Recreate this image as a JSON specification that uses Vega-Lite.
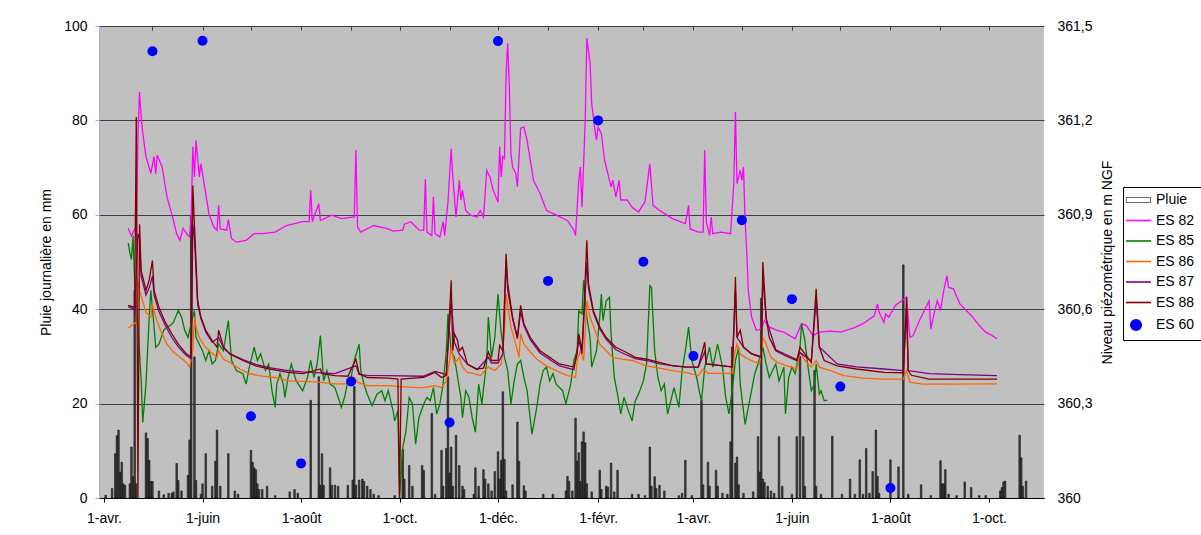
{
"$schema": "https://vega.github.io/schema/vega-lite/v6.json",
"width": 945, "height": 472,
"autosize": {"type": "none"},
"padding": {"left": 99, "top": 26, "right": 157, "bottom": 37},
"background": "#FFFFFF",
"datasets": {
"pluie": [
{"d":"2006-04-02","v":0.6},{"d":"2006-04-06","v":2},{"d":"2006-04-08","v":9.4},{"d":"2006-04-09","v":13.2},{"d":"2006-04-10","v":14.4},{"d":"2006-04-11","v":5.5},{"d":"2006-04-12","v":7.6},{"d":"2006-04-13","v":3},{"d":"2006-04-14","v":2.7},{"d":"2006-04-17","v":3},{"d":"2006-04-18","v":10.8},{"d":"2006-04-19","v":4.5},{"d":"2006-04-20","v":44},{"d":"2006-04-21","v":3},
{"d":"2006-04-27","v":13.8},{"d":"2006-04-28","v":12.6},{"d":"2006-04-29","v":8},{"d":"2006-04-30","v":3.5},{"d":"2006-05-01","v":3.5},{"d":"2006-05-05","v":1.5},{"d":"2006-05-08","v":0.7},{"d":"2006-05-11","v":1},{"d":"2006-05-13","v":1},{"d":"2006-05-14","v":1.3},{"d":"2006-05-16","v":7.3},{"d":"2006-05-17","v":3.7},{"d":"2006-05-19","v":1.5},{"d":"2006-05-23","v":4.8},{"d":"2006-05-24","v":12.3},{"d":"2006-05-25","v":59.7},{"d":"2006-05-27","v":29.9},{"d":"2006-05-28","v":3.7},{"d":"2006-05-31","v":0.8},
{"d":"2006-06-01","v":3},{"d":"2006-06-03","v":9.4},{"d":"2006-06-07","v":2.5},{"d":"2006-06-09","v":7.8},{"d":"2006-06-10","v":14.4},{"d":"2006-06-12","v":2.5},{"d":"2006-06-17","v":9.4},{"d":"2006-06-21","v":1.5},{"d":"2006-06-23","v":0.8},
{"d":"2006-07-01","v":10.1},{"d":"2006-07-02","v":7.6},{"d":"2006-07-03","v":6.4},{"d":"2006-07-04","v":6},{"d":"2006-07-05","v":3},{"d":"2006-07-06","v":1.8},{"d":"2006-07-08","v":1.8},{"d":"2006-07-11","v":2.5},{"d":"2006-07-16","v":0.5},{"d":"2006-07-25","v":1.3},{"d":"2006-07-28","v":1.8},{"d":"2006-07-30","v":1},
{"d":"2006-08-07","v":20.7},{"d":"2006-08-12","v":25.7},{"d":"2006-08-13","v":2.7},{"d":"2006-08-14","v":9.4},{"d":"2006-08-15","v":2.7},{"d":"2006-08-19","v":6.4},{"d":"2006-08-20","v":2.7},{"d":"2006-08-22","v":2.7},{"d":"2006-08-24","v":2.5},{"d":"2006-08-30","v":2.7},
{"d":"2006-09-02","v":3.8},{"d":"2006-09-03","v":23.6},{"d":"2006-09-04","v":2.7},{"d":"2006-09-06","v":3.8},{"d":"2006-09-08","v":4},{"d":"2006-09-09","v":3.5},{"d":"2006-09-11","v":2.5},{"d":"2006-09-13","v":1.8},{"d":"2006-09-15","v":0.8},{"d":"2006-09-18","v":0.5},{"d":"2006-09-28","v":0.5},
{"d":"2006-10-03","v":10.3},{"d":"2006-10-04","v":4},{"d":"2006-10-07","v":6.9},{"d":"2006-10-09","v":2.5},{"d":"2006-10-15","v":6.9},{"d":"2006-10-16","v":5.8},{"d":"2006-10-21","v":17.9},{"d":"2006-10-23","v":0.8},{"d":"2006-10-27","v":10.1},{"d":"2006-10-28","v":2.5},{"d":"2006-10-30","v":10.5},{"d":"2006-10-31","v":25.7},
{"d":"2006-11-01","v":5.3},{"d":"2006-11-02","v":10.8},{"d":"2006-11-03","v":2.5},{"d":"2006-11-05","v":13.3},{"d":"2006-11-07","v":6.9},{"d":"2006-11-09","v":2.5},{"d":"2006-11-10","v":1.8},{"d":"2006-11-16","v":0.8},{"d":"2006-11-17","v":6.4},{"d":"2006-11-19","v":2.5},{"d":"2006-11-22","v":6},{"d":"2006-11-23","v":4},{"d":"2006-11-25","v":3},{"d":"2006-11-27","v":1.5},{"d":"2006-11-29","v":5.6},
{"d":"2006-12-01","v":9.8},{"d":"2006-12-02","v":4},{"d":"2006-12-03","v":8},{"d":"2006-12-04","v":22.5},{"d":"2006-12-05","v":8.2},{"d":"2006-12-06","v":1.5},{"d":"2006-12-10","v":2.8},{"d":"2006-12-13","v":16.1},{"d":"2006-12-14","v":7.8},{"d":"2006-12-17","v":2.6},{"d":"2006-12-18","v":1.5},{"d":"2006-12-29","v":0.8},
{"d":"2007-01-04","v":0.8},{"d":"2007-01-12","v":1.5},{"d":"2007-01-13","v":4.6},{"d":"2007-01-14","v":3.5},{"d":"2007-01-16","v":1.5},{"d":"2007-01-18","v":16.9},{"d":"2007-01-19","v":7.8},{"d":"2007-01-20","v":9.6},{"d":"2007-01-21","v":3.5},{"d":"2007-01-22","v":11.9},{"d":"2007-01-23","v":14},{"d":"2007-01-24","v":11.7},{"d":"2007-01-25","v":3},{"d":"2007-01-28","v":1.3},
{"d":"2007-02-02","v":5.9},{"d":"2007-02-03","v":1.8},{"d":"2007-02-06","v":2.5},{"d":"2007-02-07","v":2.3},{"d":"2007-02-09","v":7.4},{"d":"2007-02-11","v":1.3},{"d":"2007-02-13","v":5.9},{"d":"2007-02-22","v":0.8},{"d":"2007-02-26","v":0.8},
{"d":"2007-03-02","v":0.5},{"d":"2007-03-05","v":10.8},{"d":"2007-03-06","v":2.5},{"d":"2007-03-08","v":4.5},{"d":"2007-03-09","v":2},{"d":"2007-03-11","v":2.7},{"d":"2007-03-14","v":1.5},{"d":"2007-03-23","v":0.5},{"d":"2007-03-25","v":1},{"d":"2007-03-27","v":8},{"d":"2007-03-31","v":0.5},
{"d":"2007-04-06","v":20.7},{"d":"2007-04-07","v":2.8},{"d":"2007-04-10","v":7.6},{"d":"2007-04-11","v":2.5},{"d":"2007-04-15","v":5.9},{"d":"2007-04-16","v":2.5},{"d":"2007-04-19","v":1},{"d":"2007-04-22","v":0.8},{"d":"2007-04-24","v":11.9},{"d":"2007-04-25","v":32},{"d":"2007-04-27","v":7.4},{"d":"2007-04-28","v":8.7},{"d":"2007-04-29","v":2.8},
{"d":"2007-05-02","v":1},{"d":"2007-05-08","v":1.3},{"d":"2007-05-11","v":13},{"d":"2007-05-12","v":5.5},{"d":"2007-05-13","v":42.3},{"d":"2007-05-14","v":4},{"d":"2007-05-15","v":3.3},{"d":"2007-05-17","v":2.5},{"d":"2007-05-19","v":1.5},{"d":"2007-05-21","v":1},{"d":"2007-05-24","v":13},{"d":"2007-05-26","v":2.5},
{"d":"2007-06-01","v":0.8},{"d":"2007-06-04","v":13},{"d":"2007-06-06","v":30},{"d":"2007-06-08","v":13},{"d":"2007-06-09","v":2.5},{"d":"2007-06-15","v":27},{"d":"2007-06-16","v":2.5},{"d":"2007-06-19","v":0.8},{"d":"2007-06-26","v":13.1},
{"d":"2007-07-02","v":0.8},{"d":"2007-07-07","v":4},{"d":"2007-07-10","v":0.8},{"d":"2007-07-13","v":8.1},{"d":"2007-07-15","v":0.8},{"d":"2007-07-17","v":10.5},{"d":"2007-07-19","v":1},{"d":"2007-07-21","v":5.6},{"d":"2007-07-23","v":14.4},{"d":"2007-07-24","v":4.6},{"d":"2007-07-25","v":1},
{"d":"2007-08-01","v":8.1},{"d":"2007-08-06","v":6.6},{"d":"2007-08-09","v":49.4},{"d":"2007-08-12","v":0.8},{"d":"2007-08-20","v":2.8},{"d":"2007-08-26","v":0.5},
{"d":"2007-09-01","v":7.9},{"d":"2007-09-02","v":3},{"d":"2007-09-03","v":3},{"d":"2007-09-04","v":6},{"d":"2007-09-06","v":0.8},{"d":"2007-09-11","v":0.5},{"d":"2007-09-16","v":3.4},{"d":"2007-09-20","v":2.2},{"d":"2007-09-25","v":0.5},{"d":"2007-09-29","v":0.5},
{"d":"2007-10-08","v":1.5},{"d":"2007-10-09","v":2.2},{"d":"2007-10-10","v":3.4},{"d":"2007-10-11","v":3.6},{"d":"2007-10-20","v":13.3},{"d":"2007-10-21","v":8.5},{"d":"2007-10-22","v":2.5},{"d":"2007-10-24","v":3.6}
],
"niveaux": [
{"s":"ES 82","d":"2006-04-16","v":360.857},{"s":"ES 82","d":"2006-04-18","v":360.833},{"s":"ES 82","d":"2006-04-20","v":360.855},{"s":"ES 82","d":"2006-04-21","v":360.848},{"s":"ES 82","d":"2006-04-22","v":361.148},{"s":"ES 82","d":"2006-04-23","v":361.29},{"s":"ES 82","d":"2006-04-24","v":361.211},{"s":"ES 82","d":"2006-04-25","v":361.16},{"s":"ES 82","d":"2006-04-27","v":361.085},{"s":"ES 82","d":"2006-04-30","v":361.032},{"s":"ES 82","d":"2006-05-02","v":361.085},{"s":"ES 82","d":"2006-05-03","v":361.031},{"s":"ES 82","d":"2006-05-04","v":361.089},{"s":"ES 82","d":"2006-05-07","v":361.052},{"s":"ES 82","d":"2006-05-10","v":360.957},{"s":"ES 82","d":"2006-05-13","v":360.903},{"s":"ES 82","d":"2006-05-16","v":360.84},{"s":"ES 82","d":"2006-05-18","v":360.819},{"s":"ES 82","d":"2006-05-20","v":360.857},{"s":"ES 82","d":"2006-05-23","v":360.834},{"s":"ES 82","d":"2006-05-24","v":360.83},{"s":"ES 82","d":"2006-05-25","v":360.893},{"s":"ES 82","d":"2006-05-26","v":361.116},{"s":"ES 82","d":"2006-05-27","v":361.02},{"s":"ES 82","d":"2006-05-28","v":361.137},{"s":"ES 82","d":"2006-05-30","v":361.02},{"s":"ES 82","d":"2006-05-31","v":361.062},{"s":"ES 82","d":"2006-06-03","v":360.968},{"s":"ES 82","d":"2006-06-05","v":360.903},{"s":"ES 82","d":"2006-06-08","v":360.861},{"s":"ES 82","d":"2006-06-10","v":360.851},{"s":"ES 82","d":"2006-06-11","v":360.93},{"s":"ES 82","d":"2006-06-12","v":360.855},{"s":"ES 82","d":"2006-06-16","v":360.851},{"s":"ES 82","d":"2006-06-17","v":360.885},{"s":"ES 82","d":"2006-06-19","v":360.824},{"s":"ES 82","d":"2006-06-22","v":360.813},{"s":"ES 82","d":"2006-06-28","v":360.819},{"s":"ES 82","d":"2006-07-03","v":360.84},{"s":"ES 82","d":"2006-07-08","v":360.84},{"s":"ES 82","d":"2006-07-16","v":360.845},{"s":"ES 82","d":"2006-07-23","v":360.866},{"s":"ES 82","d":"2006-08-02","v":360.878},{"s":"ES 82","d":"2006-08-06","v":360.878},{"s":"ES 82","d":"2006-08-07","v":360.978},{"s":"ES 82","d":"2006-08-08","v":360.878},{"s":"ES 82","d":"2006-08-12","v":360.935},{"s":"ES 82","d":"2006-08-13","v":360.882},{"s":"ES 82","d":"2006-08-20","v":360.899},{"s":"ES 82","d":"2006-08-26","v":360.888},{"s":"ES 82","d":"2006-09-03","v":360.893},{"s":"ES 82","d":"2006-09-04","v":361.106},{"s":"ES 82","d":"2006-09-05","v":360.861},{"s":"ES 82","d":"2006-09-07","v":360.845},{"s":"ES 82","d":"2006-09-15","v":360.866},{"s":"ES 82","d":"2006-09-24","v":360.855},{"s":"ES 82","d":"2006-09-27","v":360.848},{"s":"ES 82","d":"2006-10-03","v":360.851},{"s":"ES 82","d":"2006-10-04","v":360.87},{"s":"ES 82","d":"2006-10-08","v":360.878},{"s":"ES 82","d":"2006-10-13","v":360.852},{"s":"ES 82","d":"2006-10-16","v":360.851},{"s":"ES 82","d":"2006-10-17","v":361.013},{"s":"ES 82","d":"2006-10-18","v":360.845},{"s":"ES 82","d":"2006-10-21","v":360.834},{"s":"ES 82","d":"2006-10-22","v":360.957},{"s":"ES 82","d":"2006-10-23","v":360.84},{"s":"ES 82","d":"2006-10-26","v":360.83},{"s":"ES 82","d":"2006-10-28","v":360.878},{"s":"ES 82","d":"2006-10-29","v":360.834},{"s":"ES 82","d":"2006-10-31","v":360.941},{"s":"ES 82","d":"2006-11-02","v":361.11},{"s":"ES 82","d":"2006-11-03","v":361.02},{"s":"ES 82","d":"2006-11-05","v":360.893},{"s":"ES 82","d":"2006-11-07","v":361.01},{"s":"ES 82","d":"2006-11-08","v":360.947},{"s":"ES 82","d":"2006-11-09","v":360.978},{"s":"ES 82","d":"2006-11-11","v":360.914},{"s":"ES 82","d":"2006-11-14","v":360.899},{"s":"ES 82","d":"2006-11-18","v":360.893},{"s":"ES 82","d":"2006-11-20","v":360.914},{"s":"ES 82","d":"2006-11-22","v":360.893},{"s":"ES 82","d":"2006-11-24","v":361.041},{"s":"ES 82","d":"2006-11-26","v":361.02},{"s":"ES 82","d":"2006-11-28","v":360.978},{"s":"ES 82","d":"2006-12-01","v":360.941},{"s":"ES 82","d":"2006-12-02","v":361.116},{"s":"ES 82","d":"2006-12-03","v":361.02},{"s":"ES 82","d":"2006-12-04","v":361.085},{"s":"ES 82","d":"2006-12-05","v":361.079},{"s":"ES 82","d":"2006-12-06","v":361.35},{"s":"ES 82","d":"2006-12-07","v":361.445},{"s":"ES 82","d":"2006-12-08","v":361.307},{"s":"ES 82","d":"2006-12-09","v":361.095},{"s":"ES 82","d":"2006-12-10","v":361.052},{"s":"ES 82","d":"2006-12-12","v":361.031},{"s":"ES 82","d":"2006-12-13","v":360.989},{"s":"ES 82","d":"2006-12-15","v":361.175},{"s":"ES 82","d":"2006-12-17","v":361.179},{"s":"ES 82","d":"2006-12-19","v":361.137},{"s":"ES 82","d":"2006-12-21","v":361.073},{"s":"ES 82","d":"2006-12-23","v":361.01},{"s":"ES 82","d":"2006-12-27","v":360.968},{"s":"ES 82","d":"2006-12-31","v":360.914},{"s":"ES 82","d":"2007-01-06","v":360.899},{"s":"ES 82","d":"2007-01-13","v":360.882},{"s":"ES 82","d":"2007-01-17","v":360.851},{"s":"ES 82","d":"2007-01-18","v":360.834},{"s":"ES 82","d":"2007-01-20","v":361.01},{"s":"ES 82","d":"2007-01-21","v":361.052},{"s":"ES 82","d":"2007-01-22","v":360.924},{"s":"ES 82","d":"2007-01-24","v":361.2},{"s":"ES 82","d":"2007-01-25","v":361.461},{"s":"ES 82","d":"2007-01-27","v":361.382},{"s":"ES 82","d":"2007-01-28","v":361.254},{"s":"ES 82","d":"2007-01-30","v":361.169},{"s":"ES 82","d":"2007-01-31","v":361.137},{"s":"ES 82","d":"2007-02-01","v":361.179},{"s":"ES 82","d":"2007-02-03","v":361.158},{"s":"ES 82","d":"2007-02-05","v":361.073},{"s":"ES 82","d":"2007-02-07","v":361.031},{"s":"ES 82","d":"2007-02-09","v":360.989},{"s":"ES 82","d":"2007-02-10","v":361.01},{"s":"ES 82","d":"2007-02-12","v":360.957},{"s":"ES 82","d":"2007-02-14","v":361.01},{"s":"ES 82","d":"2007-02-15","v":360.947},{"s":"ES 82","d":"2007-02-19","v":360.947},{"s":"ES 82","d":"2007-02-22","v":360.924},{"s":"ES 82","d":"2007-02-26","v":360.909},{"s":"ES 82","d":"2007-03-02","v":360.941},{"s":"ES 82","d":"2007-03-05","v":361.062},{"s":"ES 82","d":"2007-03-07","v":360.93},{"s":"ES 82","d":"2007-03-11","v":360.914},{"s":"ES 82","d":"2007-03-19","v":360.888},{"s":"ES 82","d":"2007-03-27","v":360.872},{"s":"ES 82","d":"2007-03-29","v":360.93},{"s":"ES 82","d":"2007-03-30","v":360.855},{"s":"ES 82","d":"2007-04-04","v":360.845},{"s":"ES 82","d":"2007-04-07","v":360.845},{"s":"ES 82","d":"2007-04-08","v":361.106},{"s":"ES 82","d":"2007-04-09","v":360.878},{"s":"ES 82","d":"2007-04-11","v":360.834},{"s":"ES 82","d":"2007-04-12","v":360.893},{"s":"ES 82","d":"2007-04-13","v":360.84},{"s":"ES 82","d":"2007-04-18","v":360.845},{"s":"ES 82","d":"2007-04-24","v":360.84},{"s":"ES 82","d":"2007-04-26","v":360.999},{"s":"ES 82","d":"2007-04-27","v":361.227},{"s":"ES 82","d":"2007-04-28","v":360.999},{"s":"ES 82","d":"2007-04-30","v":361.041},{"s":"ES 82","d":"2007-05-01","v":361.01},{"s":"ES 82","d":"2007-05-02","v":361.052},{"s":"ES 82","d":"2007-05-03","v":360.882},{"s":"ES 82","d":"2007-05-04","v":360.786},{"s":"ES 82","d":"2007-05-05","v":360.659},{"s":"ES 82","d":"2007-05-07","v":360.575},{"s":"ES 82","d":"2007-05-10","v":360.533},{"s":"ES 82","d":"2007-05-13","v":360.537},{"s":"ES 82","d":"2007-05-15","v":360.564},{"s":"ES 82","d":"2007-05-18","v":360.543},{"s":"ES 82","d":"2007-05-23","v":360.533},{"s":"ES 82","d":"2007-05-27","v":360.527},{"s":"ES 82","d":"2007-06-03","v":360.506},{"s":"ES 82","d":"2007-06-07","v":360.554},{"s":"ES 82","d":"2007-06-10","v":360.548},{"s":"ES 82","d":"2007-06-14","v":360.516},{"s":"ES 82","d":"2007-06-18","v":360.527},{"s":"ES 82","d":"2007-06-25","v":360.53},{"s":"ES 82","d":"2007-07-01","v":360.527},{"s":"ES 82","d":"2007-07-09","v":360.54},{"s":"ES 82","d":"2007-07-15","v":360.554},{"s":"ES 82","d":"2007-07-22","v":360.579},{"s":"ES 82","d":"2007-07-24","v":360.617},{"s":"ES 82","d":"2007-07-25","v":360.59},{"s":"ES 82","d":"2007-07-28","v":360.558},{"s":"ES 82","d":"2007-07-29","v":360.585},{"s":"ES 82","d":"2007-07-31","v":360.575},{"s":"ES 82","d":"2007-08-04","v":360.612},{"s":"ES 82","d":"2007-08-07","v":360.623},{"s":"ES 82","d":"2007-08-11","v":360.638},{"s":"ES 82","d":"2007-08-12","v":360.575},{"s":"ES 82","d":"2007-08-13","v":360.51},{"s":"ES 82","d":"2007-08-15","v":360.516},{"s":"ES 82","d":"2007-08-19","v":360.564},{"s":"ES 82","d":"2007-08-23","v":360.606},{"s":"ES 82","d":"2007-08-25","v":360.627},{"s":"ES 82","d":"2007-08-26","v":360.537},{"s":"ES 82","d":"2007-08-28","v":360.585},{"s":"ES 82","d":"2007-08-30","v":360.627},{"s":"ES 82","d":"2007-09-01","v":360.596},{"s":"ES 82","d":"2007-09-03","v":360.659},{"s":"ES 82","d":"2007-09-05","v":360.707},{"s":"ES 82","d":"2007-09-06","v":360.669},{"s":"ES 82","d":"2007-09-09","v":360.665},{"s":"ES 82","d":"2007-09-13","v":360.617},{"s":"ES 82","d":"2007-09-17","v":360.596},{"s":"ES 82","d":"2007-09-21","v":360.575},{"s":"ES 82","d":"2007-09-25","v":360.548},{"s":"ES 82","d":"2007-09-29","v":360.527},{"s":"ES 82","d":"2007-10-03","v":360.516},{"s":"ES 82","d":"2007-10-06","v":360.506},
{"s":"ES 85","d":"2006-04-16","v":360.81},{"s":"ES 85","d":"2006-04-17","v":360.78},{"s":"ES 85","d":"2006-04-18","v":360.758},{"s":"ES 85","d":"2006-04-19","v":360.833},{"s":"ES 85","d":"2006-04-20","v":360.681},{"s":"ES 85","d":"2006-04-22","v":360.551},{"s":"ES 85","d":"2006-04-24","v":360.375},{"s":"ES 85","d":"2006-04-25","v":360.24},{"s":"ES 85","d":"2006-04-27","v":360.363},{"s":"ES 85","d":"2006-04-29","v":360.575},{"s":"ES 85","d":"2006-04-30","v":360.66},{"s":"ES 85","d":"2006-05-02","v":360.543},{"s":"ES 85","d":"2006-05-03","v":360.479},{"s":"ES 85","d":"2006-05-05","v":360.489},{"s":"ES 85","d":"2006-05-08","v":360.533},{"s":"ES 85","d":"2006-05-10","v":360.543},{"s":"ES 85","d":"2006-05-12","v":360.548},{"s":"ES 85","d":"2006-05-14","v":360.558},{"s":"ES 85","d":"2006-05-17","v":360.596},{"s":"ES 85","d":"2006-05-19","v":360.575},{"s":"ES 85","d":"2006-05-21","v":360.533},{"s":"ES 85","d":"2006-05-23","v":360.51},{"s":"ES 85","d":"2006-05-25","v":360.554},{"s":"ES 85","d":"2006-05-27","v":360.596},{"s":"ES 85","d":"2006-05-28","v":360.51},{"s":"ES 85","d":"2006-05-30","v":360.489},{"s":"ES 85","d":"2006-06-01","v":360.468},{"s":"ES 85","d":"2006-06-03","v":360.437},{"s":"ES 85","d":"2006-06-05","v":360.468},{"s":"ES 85","d":"2006-06-07","v":360.426},{"s":"ES 85","d":"2006-06-09","v":360.437},{"s":"ES 85","d":"2006-06-11","v":360.489},{"s":"ES 85","d":"2006-06-14","v":360.468},{"s":"ES 85","d":"2006-06-16","v":360.533},{"s":"ES 85","d":"2006-06-17","v":360.564},{"s":"ES 85","d":"2006-06-19","v":360.437},{"s":"ES 85","d":"2006-06-22","v":360.405},{"s":"ES 85","d":"2006-06-26","v":360.395},{"s":"ES 85","d":"2006-06-28","v":360.362},{"s":"ES 85","d":"2006-06-30","v":360.416},{"s":"ES 85","d":"2006-07-03","v":360.479},{"s":"ES 85","d":"2006-07-05","v":360.437},{"s":"ES 85","d":"2006-07-07","v":360.458},{"s":"ES 85","d":"2006-07-10","v":360.405},{"s":"ES 85","d":"2006-07-12","v":360.426},{"s":"ES 85","d":"2006-07-14","v":360.341},{"s":"ES 85","d":"2006-07-16","v":360.288},{"s":"ES 85","d":"2006-07-17","v":360.362},{"s":"ES 85","d":"2006-07-19","v":360.395},{"s":"ES 85","d":"2006-07-21","v":360.362},{"s":"ES 85","d":"2006-07-22","v":360.32},{"s":"ES 85","d":"2006-07-24","v":360.383},{"s":"ES 85","d":"2006-07-26","v":360.426},{"s":"ES 85","d":"2006-07-29","v":360.372},{"s":"ES 85","d":"2006-08-02","v":360.341},{"s":"ES 85","d":"2006-08-05","v":360.383},{"s":"ES 85","d":"2006-08-07","v":360.437},{"s":"ES 85","d":"2006-08-09","v":360.383},{"s":"ES 85","d":"2006-08-11","v":360.426},{"s":"ES 85","d":"2006-08-13","v":360.516},{"s":"ES 85","d":"2006-08-15","v":360.372},{"s":"ES 85","d":"2006-08-17","v":360.405},{"s":"ES 85","d":"2006-08-19","v":360.362},{"s":"ES 85","d":"2006-08-22","v":360.351},{"s":"ES 85","d":"2006-08-24","v":360.32},{"s":"ES 85","d":"2006-08-26","v":360.288},{"s":"ES 85","d":"2006-08-28","v":360.32},{"s":"ES 85","d":"2006-08-30","v":360.372},{"s":"ES 85","d":"2006-09-01","v":360.383},{"s":"ES 85","d":"2006-09-03","v":360.437},{"s":"ES 85","d":"2006-09-06","v":360.489},{"s":"ES 85","d":"2006-09-07","v":360.405},{"s":"ES 85","d":"2006-09-09","v":360.362},{"s":"ES 85","d":"2006-09-11","v":360.33},{"s":"ES 85","d":"2006-09-14","v":360.293},{"s":"ES 85","d":"2006-09-17","v":360.33},{"s":"ES 85","d":"2006-09-20","v":360.341},{"s":"ES 85","d":"2006-09-22","v":360.309},{"s":"ES 85","d":"2006-09-24","v":360.341},{"s":"ES 85","d":"2006-09-27","v":360.278},{"s":"ES 85","d":"2006-09-28","v":360.245},{"s":"ES 85","d":"2006-09-30","v":360.278},{"s":"ES 85","d":"2006-10-01","v":360},{"s":"ES 85","d":"2006-10-03","v":360.161},{"s":"ES 85","d":"2006-10-05","v":360.213},{"s":"ES 85","d":"2006-10-07","v":360.32},{"s":"ES 85","d":"2006-10-09","v":360.299},{"s":"ES 85","d":"2006-10-11","v":360.171},{"s":"ES 85","d":"2006-10-13","v":360.255},{"s":"ES 85","d":"2006-10-16","v":360.299},{"s":"ES 85","d":"2006-10-18","v":360.32},{"s":"ES 85","d":"2006-10-20","v":360.309},{"s":"ES 85","d":"2006-10-22","v":360.351},{"s":"ES 85","d":"2006-10-24","v":360.267},{"s":"ES 85","d":"2006-10-26","v":360.299},{"s":"ES 85","d":"2006-10-28","v":360.362},{"s":"ES 85","d":"2006-10-30","v":360.468},{"s":"ES 85","d":"2006-10-31","v":360.585},{"s":"ES 85","d":"2006-11-02","v":360.468},{"s":"ES 85","d":"2006-11-04","v":360.447},{"s":"ES 85","d":"2006-11-06","v":360.383},{"s":"ES 85","d":"2006-11-08","v":360.32},{"s":"ES 85","d":"2006-11-09","v":360.255},{"s":"ES 85","d":"2006-11-11","v":360.341},{"s":"ES 85","d":"2006-11-13","v":360.32},{"s":"ES 85","d":"2006-11-15","v":360.255},{"s":"ES 85","d":"2006-11-17","v":360.209},{"s":"ES 85","d":"2006-11-19","v":360.362},{"s":"ES 85","d":"2006-11-21","v":360.299},{"s":"ES 85","d":"2006-11-24","v":360.437},{"s":"ES 85","d":"2006-11-25","v":360.575},{"s":"ES 85","d":"2006-11-27","v":360.447},{"s":"ES 85","d":"2006-11-29","v":360.51},{"s":"ES 85","d":"2006-12-01","v":360.648},{"s":"ES 85","d":"2006-12-03","v":360.522},{"s":"ES 85","d":"2006-12-05","v":360.447},{"s":"ES 85","d":"2006-12-07","v":360.405},{"s":"ES 85","d":"2006-12-09","v":360.299},{"s":"ES 85","d":"2006-12-11","v":360.372},{"s":"ES 85","d":"2006-12-13","v":360.426},{"s":"ES 85","d":"2006-12-15","v":360.437},{"s":"ES 85","d":"2006-12-17","v":360.383},{"s":"ES 85","d":"2006-12-19","v":360.341},{"s":"ES 85","d":"2006-12-22","v":360.203},{"s":"ES 85","d":"2006-12-25","v":360.288},{"s":"ES 85","d":"2006-12-27","v":360.362},{"s":"ES 85","d":"2006-12-29","v":360.405},{"s":"ES 85","d":"2006-12-31","v":360.416},{"s":"ES 85","d":"2007-01-02","v":360.372},{"s":"ES 85","d":"2007-01-04","v":360.395},{"s":"ES 85","d":"2007-01-06","v":360.362},{"s":"ES 85","d":"2007-01-10","v":360.341},{"s":"ES 85","d":"2007-01-12","v":360.299},{"s":"ES 85","d":"2007-01-15","v":360.362},{"s":"ES 85","d":"2007-01-17","v":360.437},{"s":"ES 85","d":"2007-01-19","v":360.468},{"s":"ES 85","d":"2007-01-20","v":360.596},{"s":"ES 85","d":"2007-01-22","v":360.585},{"s":"ES 85","d":"2007-01-23","v":360.692},{"s":"ES 85","d":"2007-01-25","v":360.575},{"s":"ES 85","d":"2007-01-27","v":360.51},{"s":"ES 85","d":"2007-01-28","v":360.416},{"s":"ES 85","d":"2007-01-31","v":360.468},{"s":"ES 85","d":"2007-02-02","v":360.575},{"s":"ES 85","d":"2007-02-03","v":360.648},{"s":"ES 85","d":"2007-02-04","v":360.564},{"s":"ES 85","d":"2007-02-06","v":360.627},{"s":"ES 85","d":"2007-02-08","v":360.638},{"s":"ES 85","d":"2007-02-09","v":360.522},{"s":"ES 85","d":"2007-02-11","v":360.383},{"s":"ES 85","d":"2007-02-13","v":360.33},{"s":"ES 85","d":"2007-02-15","v":360.267},{"s":"ES 85","d":"2007-02-17","v":360.32},{"s":"ES 85","d":"2007-02-19","v":360.288},{"s":"ES 85","d":"2007-02-22","v":360.245},{"s":"ES 85","d":"2007-02-24","v":360.309},{"s":"ES 85","d":"2007-02-26","v":360.33},{"s":"ES 85","d":"2007-03-01","v":360.372},{"s":"ES 85","d":"2007-03-03","v":360.426},{"s":"ES 85","d":"2007-03-05","v":360.675},{"s":"ES 85","d":"2007-03-06","v":360.669},{"s":"ES 85","d":"2007-03-08","v":360.468},{"s":"ES 85","d":"2007-03-10","v":360.383},{"s":"ES 85","d":"2007-03-12","v":360.341},{"s":"ES 85","d":"2007-03-14","v":360.362},{"s":"ES 85","d":"2007-03-16","v":360.267},{"s":"ES 85","d":"2007-03-18","v":360.309},{"s":"ES 85","d":"2007-03-20","v":360.351},{"s":"ES 85","d":"2007-03-23","v":360.288},{"s":"ES 85","d":"2007-03-25","v":360.405},{"s":"ES 85","d":"2007-03-27","v":360.468},{"s":"ES 85","d":"2007-03-29","v":360.543},{"s":"ES 85","d":"2007-03-31","v":360.437},{"s":"ES 85","d":"2007-04-03","v":360.383},{"s":"ES 85","d":"2007-04-05","v":360.33},{"s":"ES 85","d":"2007-04-06","v":360.309},{"s":"ES 85","d":"2007-04-08","v":360.416},{"s":"ES 85","d":"2007-04-11","v":360.479},{"s":"ES 85","d":"2007-04-13","v":360.416},{"s":"ES 85","d":"2007-04-16","v":360.489},{"s":"ES 85","d":"2007-04-19","v":360.416},{"s":"ES 85","d":"2007-04-21","v":360.32},{"s":"ES 85","d":"2007-04-23","v":360.267},{"s":"ES 85","d":"2007-04-25","v":360.341},{"s":"ES 85","d":"2007-04-27","v":360.437},{"s":"ES 85","d":"2007-04-29","v":360.479},{"s":"ES 85","d":"2007-04-30","v":360.362},{"s":"ES 85","d":"2007-05-03","v":360.234},{"s":"ES 85","d":"2007-05-05","v":360.288},{"s":"ES 85","d":"2007-05-07","v":360.341},{"s":"ES 85","d":"2007-05-09","v":360.395},{"s":"ES 85","d":"2007-05-11","v":360.426},{"s":"ES 85","d":"2007-05-14","v":360.479},{"s":"ES 85","d":"2007-05-16","v":360.426},{"s":"ES 85","d":"2007-05-18","v":360.383},{"s":"ES 85","d":"2007-05-20","v":360.405},{"s":"ES 85","d":"2007-05-22","v":360.426},{"s":"ES 85","d":"2007-05-24","v":360.372},{"s":"ES 85","d":"2007-05-27","v":360.416},{"s":"ES 85","d":"2007-05-28","v":360.267},{"s":"ES 85","d":"2007-05-30","v":360.383},{"s":"ES 85","d":"2007-06-01","v":360.416},{"s":"ES 85","d":"2007-06-03","v":360.395},{"s":"ES 85","d":"2007-06-06","v":360.479},{"s":"ES 85","d":"2007-06-07","v":360.554},{"s":"ES 85","d":"2007-06-09","v":360.5},{"s":"ES 85","d":"2007-06-11","v":360.416},{"s":"ES 85","d":"2007-06-13","v":360.341},{"s":"ES 85","d":"2007-06-15","v":360.362},{"s":"ES 85","d":"2007-06-16","v":360.426},{"s":"ES 85","d":"2007-06-18","v":360.33},{"s":"ES 85","d":"2007-06-19","v":360.341},{"s":"ES 85","d":"2007-06-21","v":360.309},{"s":"ES 85","d":"2007-06-23","v":360.311},
{"s":"ES 86","d":"2006-04-16","v":360.54},{"s":"ES 86","d":"2006-04-20","v":360.555},{"s":"ES 86","d":"2006-04-21","v":360.558},{"s":"ES 86","d":"2006-04-22","v":360.69},{"s":"ES 86","d":"2006-04-23","v":360.66},{"s":"ES 86","d":"2006-04-27","v":360.59},{"s":"ES 86","d":"2006-04-30","v":360.575},{"s":"ES 86","d":"2006-05-01","v":360.617},{"s":"ES 86","d":"2006-05-03","v":360.575},{"s":"ES 86","d":"2006-05-06","v":360.533},{"s":"ES 86","d":"2006-05-10","v":360.489},{"s":"ES 86","d":"2006-05-14","v":360.464},{"s":"ES 86","d":"2006-05-18","v":360.447},{"s":"ES 86","d":"2006-05-22","v":360.431},{"s":"ES 86","d":"2006-05-24","v":360.416},{"s":"ES 86","d":"2006-05-26","v":360.468},{"s":"ES 86","d":"2006-05-27","v":360.575},{"s":"ES 86","d":"2006-05-28","v":360.543},{"s":"ES 86","d":"2006-05-30","v":360.51},{"s":"ES 86","d":"2006-06-02","v":360.485},{"s":"ES 86","d":"2006-06-05","v":360.468},{"s":"ES 86","d":"2006-06-10","v":360.447},{"s":"ES 86","d":"2006-06-11","v":360.468},{"s":"ES 86","d":"2006-06-14","v":360.441},{"s":"ES 86","d":"2006-06-18","v":360.431},{"s":"ES 86","d":"2006-06-24","v":360.41},{"s":"ES 86","d":"2006-06-30","v":360.395},{"s":"ES 86","d":"2006-07-08","v":360.387},{"s":"ES 86","d":"2006-07-16","v":360.383},{"s":"ES 86","d":"2006-07-24","v":360.372},{"s":"ES 86","d":"2006-08-10","v":360.369},{"s":"ES 86","d":"2006-08-22","v":360.363},{"s":"ES 86","d":"2006-08-30","v":360.363},{"s":"ES 86","d":"2006-09-03","v":360.383},{"s":"ES 86","d":"2006-09-05","v":360.368},{"s":"ES 86","d":"2006-09-11","v":360.357},{"s":"ES 86","d":"2006-09-24","v":360.357},{"s":"ES 86","d":"2006-10-02","v":360.354},{"s":"ES 86","d":"2006-10-15","v":360.35},{"s":"ES 86","d":"2006-10-23","v":360.357},{"s":"ES 86","d":"2006-10-27","v":360.351},{"s":"ES 86","d":"2006-10-30","v":360.372},{"s":"ES 86","d":"2006-11-01","v":360.437},{"s":"ES 86","d":"2006-11-02","v":360.479},{"s":"ES 86","d":"2006-11-04","v":360.426},{"s":"ES 86","d":"2006-11-07","v":360.447},{"s":"ES 86","d":"2006-11-09","v":360.416},{"s":"ES 86","d":"2006-11-12","v":360.399},{"s":"ES 86","d":"2006-11-16","v":360.395},{"s":"ES 86","d":"2006-11-20","v":360.389},{"s":"ES 86","d":"2006-11-25","v":360.416},{"s":"ES 86","d":"2006-11-29","v":360.405},{"s":"ES 86","d":"2006-12-03","v":360.426},{"s":"ES 86","d":"2006-12-05","v":360.522},{"s":"ES 86","d":"2006-12-06","v":360.648},{"s":"ES 86","d":"2006-12-09","v":360.543},{"s":"ES 86","d":"2006-12-12","v":360.489},{"s":"ES 86","d":"2006-12-14","v":360.447},{"s":"ES 86","d":"2006-12-15","v":360.522},{"s":"ES 86","d":"2006-12-17","v":360.489},{"s":"ES 86","d":"2006-12-21","v":360.464},{"s":"ES 86","d":"2006-12-25","v":360.441},{"s":"ES 86","d":"2006-12-31","v":360.42},{"s":"ES 86","d":"2007-01-06","v":360.405},{"s":"ES 86","d":"2007-01-13","v":360.389},{"s":"ES 86","d":"2007-01-18","v":360.383},{"s":"ES 86","d":"2007-01-19","v":360.437},{"s":"ES 86","d":"2007-01-21","v":360.468},{"s":"ES 86","d":"2007-01-23","v":360.437},{"s":"ES 86","d":"2007-01-25","v":360.627},{"s":"ES 86","d":"2007-01-27","v":360.575},{"s":"ES 86","d":"2007-01-30","v":360.533},{"s":"ES 86","d":"2007-02-02","v":360.489},{"s":"ES 86","d":"2007-02-06","v":360.468},{"s":"ES 86","d":"2007-02-10","v":360.447},{"s":"ES 86","d":"2007-02-16","v":360.441},{"s":"ES 86","d":"2007-02-22","v":360.437},{"s":"ES 86","d":"2007-03-03","v":360.42},{"s":"ES 86","d":"2007-03-11","v":360.413},{"s":"ES 86","d":"2007-03-19","v":360.405},{"s":"ES 86","d":"2007-03-27","v":360.399},{"s":"ES 86","d":"2007-04-04","v":360.389},{"s":"ES 86","d":"2007-04-07","v":360.41},{"s":"ES 86","d":"2007-04-10","v":360.396},{"s":"ES 86","d":"2007-04-25","v":360.396},{"s":"ES 86","d":"2007-04-26","v":360.447},{"s":"ES 86","d":"2007-04-28","v":360.489},{"s":"ES 86","d":"2007-04-30","v":360.458},{"s":"ES 86","d":"2007-05-03","v":360.447},{"s":"ES 86","d":"2007-05-07","v":360.437},{"s":"ES 86","d":"2007-05-12","v":360.426},{"s":"ES 86","d":"2007-05-14","v":360.51},{"s":"ES 86","d":"2007-05-16","v":360.489},{"s":"ES 86","d":"2007-05-19","v":360.447},{"s":"ES 86","d":"2007-05-23","v":360.431},{"s":"ES 86","d":"2007-05-29","v":360.42},{"s":"ES 86","d":"2007-06-04","v":360.41},{"s":"ES 86","d":"2007-06-06","v":360.464},{"s":"ES 86","d":"2007-06-09","v":360.437},{"s":"ES 86","d":"2007-06-13","v":360.416},{"s":"ES 86","d":"2007-06-16","v":360.437},{"s":"ES 86","d":"2007-06-18","v":360.416},{"s":"ES 86","d":"2007-06-25","v":360.405},{"s":"ES 86","d":"2007-07-03","v":360.389},{"s":"ES 86","d":"2007-07-15","v":360.381},{"s":"ES 86","d":"2007-07-28","v":360.378},{"s":"ES 86","d":"2007-08-09","v":360.378},{"s":"ES 86","d":"2007-08-11","v":360.405},{"s":"ES 86","d":"2007-08-13","v":360.368},{"s":"ES 86","d":"2007-08-21","v":360.362},{"s":"ES 86","d":"2007-09-02","v":360.362},{"s":"ES 86","d":"2007-10-06","v":360.363},
{"s":"ES 87","d":"2006-04-16","v":360.608},{"s":"ES 87","d":"2006-04-20","v":360.6},{"s":"ES 87","d":"2006-04-22","v":360.84},{"s":"ES 87","d":"2006-04-23","v":360.825},{"s":"ES 87","d":"2006-04-24","v":360.705},{"s":"ES 87","d":"2006-04-27","v":360.645},{"s":"ES 87","d":"2006-04-29","v":360.668},{"s":"ES 87","d":"2006-05-01","v":360.705},{"s":"ES 87","d":"2006-05-02","v":360.645},{"s":"ES 87","d":"2006-05-05","v":360.593},{"s":"ES 87","d":"2006-05-09","v":360.548},{"s":"ES 87","d":"2006-05-13","v":360.51},{"s":"ES 87","d":"2006-05-17","v":360.48},{"s":"ES 87","d":"2006-05-22","v":360.453},{"s":"ES 87","d":"2006-05-25","v":360.443},{"s":"ES 87","d":"2006-05-26","v":360.87},{"s":"ES 87","d":"2006-05-27","v":360.825},{"s":"ES 87","d":"2006-05-29","v":360.615},{"s":"ES 87","d":"2006-05-31","v":360.57},{"s":"ES 87","d":"2006-06-03","v":360.528},{"s":"ES 87","d":"2006-06-07","v":360.495},{"s":"ES 87","d":"2006-06-11","v":360.51},{"s":"ES 87","d":"2006-06-14","v":360.477},{"s":"ES 87","d":"2006-06-18","v":360.458},{"s":"ES 87","d":"2006-06-26","v":360.44},{"s":"ES 87","d":"2006-07-04","v":360.425},{"s":"ES 87","d":"2006-07-12","v":360.414},{"s":"ES 87","d":"2006-07-24","v":360.405},{"s":"ES 87","d":"2006-08-02","v":360.401},{"s":"ES 87","d":"2006-08-22","v":360.395},{"s":"ES 87","d":"2006-09-04","v":360.42},{"s":"ES 87","d":"2006-09-06","v":360.393},{"s":"ES 87","d":"2006-09-11","v":360.39},{"s":"ES 87","d":"2006-09-24","v":360.389},{"s":"ES 87","d":"2006-10-16","v":360.387},{"s":"ES 87","d":"2006-10-23","v":360.402},{"s":"ES 87","d":"2006-10-30","v":360.393},{"s":"ES 87","d":"2006-11-02","v":360.63},{"s":"ES 87","d":"2006-11-04","v":360.495},{"s":"ES 87","d":"2006-11-07","v":360.458},{"s":"ES 87","d":"2006-11-12","v":360.425},{"s":"ES 87","d":"2006-11-18","v":360.408},{"s":"ES 87","d":"2006-11-25","v":360.447},{"s":"ES 87","d":"2006-11-27","v":360.429},{"s":"ES 87","d":"2006-12-01","v":360.429},{"s":"ES 87","d":"2006-12-04","v":360.458},{"s":"ES 87","d":"2006-12-06","v":360.75},{"s":"ES 87","d":"2006-12-07","v":360.66},{"s":"ES 87","d":"2006-12-10","v":360.57},{"s":"ES 87","d":"2006-12-13","v":360.506},{"s":"ES 87","d":"2006-12-15","v":360.593},{"s":"ES 87","d":"2006-12-17","v":360.548},{"s":"ES 87","d":"2006-12-21","v":360.503},{"s":"ES 87","d":"2006-12-27","v":360.461},{"s":"ES 87","d":"2007-01-02","v":360.44},{"s":"ES 87","d":"2007-01-08","v":360.42},{"s":"ES 87","d":"2007-01-17","v":360.408},{"s":"ES 87","d":"2007-01-20","v":360.503},{"s":"ES 87","d":"2007-01-22","v":360.458},{"s":"ES 87","d":"2007-01-25","v":360.75},{"s":"ES 87","d":"2007-01-26","v":360.668},{"s":"ES 87","d":"2007-01-29","v":360.59},{"s":"ES 87","d":"2007-02-02","v":360.537},{"s":"ES 87","d":"2007-02-06","v":360.504},{"s":"ES 87","d":"2007-02-12","v":360.471},{"s":"ES 87","d":"2007-02-18","v":360.456},{"s":"ES 87","d":"2007-02-24","v":360.443},{"s":"ES 87","d":"2007-03-03","v":360.437},{"s":"ES 87","d":"2007-03-11","v":360.426},{"s":"ES 87","d":"2007-03-27","v":360.416},{"s":"ES 87","d":"2007-04-04","v":360.416},{"s":"ES 87","d":"2007-04-08","v":360.465},{"s":"ES 87","d":"2007-04-09","v":360.426},{"s":"ES 87","d":"2007-04-25","v":360.417},{"s":"ES 87","d":"2007-04-27","v":360.66},{"s":"ES 87","d":"2007-04-28","v":360.51},{"s":"ES 87","d":"2007-05-02","v":360.48},{"s":"ES 87","d":"2007-05-07","v":360.459},{"s":"ES 87","d":"2007-05-13","v":360.449},{"s":"ES 87","d":"2007-05-14","v":360.705},{"s":"ES 87","d":"2007-05-16","v":360.57},{"s":"ES 87","d":"2007-05-22","v":360.471},{"s":"ES 87","d":"2007-06-04","v":360.44},{"s":"ES 87","d":"2007-06-06","v":360.462},{"s":"ES 87","d":"2007-06-13","v":360.435},{"s":"ES 87","d":"2007-06-16","v":360.63},{"s":"ES 87","d":"2007-06-18","v":360.48},{"s":"ES 87","d":"2007-06-29","v":360.426},{"s":"ES 87","d":"2007-07-11","v":360.417},{"s":"ES 87","d":"2007-07-28","v":360.41},{"s":"ES 87","d":"2007-08-09","v":360.405},{"s":"ES 87","d":"2007-08-11","v":360.6},{"s":"ES 87","d":"2007-08-12","v":360.405},{"s":"ES 87","d":"2007-08-25","v":360.395},{"s":"ES 87","d":"2007-09-13","v":360.392},{"s":"ES 87","d":"2007-10-06","v":360.389},
{"s":"ES 88","d":"2006-04-16","v":360.612},{"s":"ES 88","d":"2006-04-20","v":360.606},{"s":"ES 88","d":"2006-04-21","v":361.211},{"s":"ES 88","d":"2006-04-22","v":360},{"s":"ES 88","d":"2006-04-23","v":360.87},{"s":"ES 88","d":"2006-04-24","v":360.723},{"s":"ES 88","d":"2006-04-27","v":360.66},{"s":"ES 88","d":"2006-04-29","v":360.693},{"s":"ES 88","d":"2006-05-01","v":360.755},{"s":"ES 88","d":"2006-05-02","v":360.66},{"s":"ES 88","d":"2006-05-05","v":360.606},{"s":"ES 88","d":"2006-05-09","v":360.558},{"s":"ES 88","d":"2006-05-13","v":360.522},{"s":"ES 88","d":"2006-05-17","v":360.489},{"s":"ES 88","d":"2006-05-22","v":360.458},{"s":"ES 88","d":"2006-05-25","v":360.447},{"s":"ES 88","d":"2006-05-26","v":360.993},{"s":"ES 88","d":"2006-05-27","v":360.87},{"s":"ES 88","d":"2006-05-29","v":360.627},{"s":"ES 88","d":"2006-05-31","v":360.575},{"s":"ES 88","d":"2006-06-03","v":360.533},{"s":"ES 88","d":"2006-06-07","v":360.5},{"s":"ES 88","d":"2006-06-10","v":360.479},{"s":"ES 88","d":"2006-06-11","v":360.533},{"s":"ES 88","d":"2006-06-14","v":360.479},{"s":"ES 88","d":"2006-06-18","v":360.458},{"s":"ES 88","d":"2006-06-26","v":360.437},{"s":"ES 88","d":"2006-07-04","v":360.42},{"s":"ES 88","d":"2006-07-12","v":360.41},{"s":"ES 88","d":"2006-07-24","v":360.399},{"s":"ES 88","d":"2006-08-02","v":360.395},{"s":"ES 88","d":"2006-08-13","v":360.41},{"s":"ES 88","d":"2006-08-14","v":360.395},{"s":"ES 88","d":"2006-08-22","v":360.389},{"s":"ES 88","d":"2006-08-30","v":360.387},{"s":"ES 88","d":"2006-09-04","v":360.441},{"s":"ES 88","d":"2006-09-06","v":360.395},{"s":"ES 88","d":"2006-09-11","v":360.383},{"s":"ES 88","d":"2006-09-24","v":360.381},{"s":"ES 88","d":"2006-09-30","v":360.378},{"s":"ES 88","d":"2006-10-01","v":360},{"s":"ES 88","d":"2006-10-02","v":360.378},{"s":"ES 88","d":"2006-10-16","v":360.383},{"s":"ES 88","d":"2006-10-23","v":360.399},{"s":"ES 88","d":"2006-10-27","v":360.383},{"s":"ES 88","d":"2006-10-30","v":360.39},{"s":"ES 88","d":"2006-11-02","v":360.692},{"s":"ES 88","d":"2006-11-03","v":360.468},{"s":"ES 88","d":"2006-11-04","v":360.522},{"s":"ES 88","d":"2006-11-06","v":360.5},{"s":"ES 88","d":"2006-11-07","v":360.468},{"s":"ES 88","d":"2006-11-09","v":360.479},{"s":"ES 88","d":"2006-11-12","v":360.426},{"s":"ES 88","d":"2006-11-18","v":360.41},{"s":"ES 88","d":"2006-11-22","v":360.413},{"s":"ES 88","d":"2006-11-25","v":360.464},{"s":"ES 88","d":"2006-11-27","v":360.437},{"s":"ES 88","d":"2006-12-01","v":360.437},{"s":"ES 88","d":"2006-12-02","v":360.485},{"s":"ES 88","d":"2006-12-04","v":360.468},{"s":"ES 88","d":"2006-12-06","v":360.776},{"s":"ES 88","d":"2006-12-07","v":360.681},{"s":"ES 88","d":"2006-12-10","v":360.575},{"s":"ES 88","d":"2006-12-13","v":360.51},{"s":"ES 88","d":"2006-12-15","v":360.612},{"s":"ES 88","d":"2006-12-17","v":360.554},{"s":"ES 88","d":"2006-12-21","v":360.51},{"s":"ES 88","d":"2006-12-27","v":360.468},{"s":"ES 88","d":"2007-01-02","v":360.447},{"s":"ES 88","d":"2007-01-08","v":360.426},{"s":"ES 88","d":"2007-01-17","v":360.416},{"s":"ES 88","d":"2007-01-19","v":360.458},{"s":"ES 88","d":"2007-01-20","v":360.522},{"s":"ES 88","d":"2007-01-22","v":360.468},{"s":"ES 88","d":"2007-01-23","v":360.575},{"s":"ES 88","d":"2007-01-25","v":360.819},{"s":"ES 88","d":"2007-01-26","v":360.681},{"s":"ES 88","d":"2007-01-29","v":360.596},{"s":"ES 88","d":"2007-02-02","v":360.543},{"s":"ES 88","d":"2007-02-06","v":360.51},{"s":"ES 88","d":"2007-02-12","v":360.479},{"s":"ES 88","d":"2007-02-18","v":360.464},{"s":"ES 88","d":"2007-02-24","v":360.447},{"s":"ES 88","d":"2007-03-03","v":360.441},{"s":"ES 88","d":"2007-03-11","v":360.431},{"s":"ES 88","d":"2007-03-19","v":360.42},{"s":"ES 88","d":"2007-03-27","v":360.417},{"s":"ES 88","d":"2007-04-04","v":360.416},{"s":"ES 88","d":"2007-04-08","v":360.495},{"s":"ES 88","d":"2007-04-09","v":360.426},{"s":"ES 88","d":"2007-04-25","v":360.416},{"s":"ES 88","d":"2007-04-26","v":360.522},{"s":"ES 88","d":"2007-04-27","v":360.702},{"s":"ES 88","d":"2007-04-28","v":360.51},{"s":"ES 88","d":"2007-04-30","v":360.533},{"s":"ES 88","d":"2007-05-02","v":360.479},{"s":"ES 88","d":"2007-05-07","v":360.458},{"s":"ES 88","d":"2007-05-13","v":360.447},{"s":"ES 88","d":"2007-05-14","v":360.75},{"s":"ES 88","d":"2007-05-16","v":360.575},{"s":"ES 88","d":"2007-05-18","v":360.51},{"s":"ES 88","d":"2007-05-22","v":360.468},{"s":"ES 88","d":"2007-05-28","v":360.452},{"s":"ES 88","d":"2007-06-04","v":360.437},{"s":"ES 88","d":"2007-06-06","v":360.479},{"s":"ES 88","d":"2007-06-09","v":360.458},{"s":"ES 88","d":"2007-06-13","v":360.431},{"s":"ES 88","d":"2007-06-16","v":360.665},{"s":"ES 88","d":"2007-06-18","v":360.479},{"s":"ES 88","d":"2007-06-21","v":360.437},{"s":"ES 88","d":"2007-06-29","v":360.42},{"s":"ES 88","d":"2007-07-11","v":360.41},{"s":"ES 88","d":"2007-07-28","v":360.399},{"s":"ES 88","d":"2007-08-09","v":360.398},{"s":"ES 88","d":"2007-08-11","v":360.638},{"s":"ES 88","d":"2007-08-12","v":360.405},{"s":"ES 88","d":"2007-08-14","v":360.39},{"s":"ES 88","d":"2007-08-25","v":360.378},{"s":"ES 88","d":"2007-10-06","v":360.378}
],
"es60": [
{"s":"ES 60","d":"2006-05-01","v":361.42},{"s":"ES 60","d":"2006-06-01","v":361.453},{"s":"ES 60","d":"2006-07-01","v":360.26},{"s":"ES 60","d":"2006-08-01","v":360.11},{"s":"ES 60","d":"2006-09-01","v":360.37},{"s":"ES 60","d":"2006-11-01","v":360.24},{"s":"ES 60","d":"2006-12-01","v":361.452},{"s":"ES 60","d":"2007-01-01","v":360.69},{"s":"ES 60","d":"2007-02-01","v":361.2},{"s":"ES 60","d":"2007-03-01","v":360.751},{"s":"ES 60","d":"2007-04-01","v":360.451},{"s":"ES 60","d":"2007-05-01","v":360.883},{"s":"ES 60","d":"2007-06-01","v":360.632},{"s":"ES 60","d":"2007-07-01","v":360.354},{"s":"ES 60","d":"2007-08-01","v":360.032}
]
},
"layer": [
{
"data": {"name": "pluie"},
"mark": {"type": "bar", "width": 1.6, "stroke": "#000000", "strokeWidth": 0.5},
"encoding": {
"x": {"field": "d", "type": "temporal",
"scale": {"type": "utc", "domain": [{"year": 2006, "month": 4, "date": 1, "utc": true}, {"year": 2007, "month": 11, "date": 1, "utc": true}]},
"axis": {"title": null, "orient": "bottom", "grid": false,
"values": [{"year":2006,"month":4,"date":1,"utc":true},{"year":2006,"month":6,"date":1,"utc":true},{"year":2006,"month":8,"date":1,"utc":true},{"year":2006,"month":10,"date":1,"utc":true},{"year":2006,"month":12,"date":1,"utc":true},{"year":2007,"month":2,"date":1,"utc":true},{"year":2007,"month":4,"date":1,"utc":true},{"year":2007,"month":6,"date":1,"utc":true},{"year":2007,"month":8,"date":1,"utc":true},{"year":2007,"month":10,"date":1,"utc":true}],
"labelExpr": "'1-' + ['janv.','févr.','mars','avr.','mai','juin','juil.','août','sept.','oct.','nov.','déc.'][utcmonth(datum.value)]",
"domainColor": "#000000", "tickColor": "#000000", "tickSize": 4, "labelPadding": 9,
"labelFlush": false, "labelOverlap": false}},
"y": {"field": "v", "type": "quantitative",
"scale": {"domain": [0, 100], "nice": false},
"axis": {"orient": "left", "title": "Pluie journalière en mm", "values": [0, 20, 40, 60, 80, 100],
"grid": true, "gridColor": "#404040", "gridWidth": 1,
"domainColor": "#A8A8E8", "tickColor": "#A8A8E8", "tickSize": 4, "labelPadding": 8, "titlePadding": 10}},
"color": {"datum": "Pluie", "type": "nominal",
"scale": {"domain": ["Pluie", "ES 82", "ES 85", "ES 86", "ES 87", "ES 88", "ES 60"],
"range": ["#404040", "#FF00FF", "#008000", "#FF6600", "#800080", "#800000", "#0000FF"]},
"legend": {
"title": null, "orient": "none", "legendX": 1024, "legendY": 161,
"values": ["Pluie", "ES 82", "ES 85", "ES 86", "ES 87", "ES 88", "ES 60"],
"strokeColor": "#000000", "fillColor": "#FFFFFF", "padding": 6,
"labelFont": "Liberation Sans", "labelFontSize": 14, "labelColor": "#000000",
"symbolSize": 400, "rowPadding": 6.5, "labelOffset": 13,
"encode": {"symbols": {"update": {
"shape": {"signal": "datum.value === 'Pluie' ? 'M-1,-0.3H1.5V0.3H-1ZM-0.93,-0.23V0.23H1.43V-0.23Z' : datum.value === 'ES 60' ? 'circle' : 'M-1,0H1.5'"},
"size": {"signal": "datum.value === 'ES 60' ? 110 : 400"},
"fill": {"signal": "datum.value === 'Pluie' ? '#000000' : datum.value === 'ES 60' ? '#0000FF' : 'transparent'"},
"stroke": {"signal": "datum.value === 'Pluie' ? 'transparent' : datum.value === 'ES 60' ? 'transparent' : datum.value === 'ES 82' ? '#FF00FF' : datum.value === 'ES 85' ? '#008000' : datum.value === 'ES 86' ? '#FF6600' : datum.value === 'ES 87' ? '#800080' : '#800000'"},
"strokeWidth": {"signal": "datum.value === 'Pluie' ? 0 : 1.6"},
"opacity": {"value": 1}
}}}
}}
}
},
{
"layer": [
{
"data": {"name": "niveaux"},
"mark": {"type": "line", "interpolate": "linear"},
"encoding": {
"x": {"field": "d", "type": "temporal",
"axis": {"orient": "top", "title": null, "labels": false, "domain": false, "grid": false,
"values": [{"year":2006,"month":5,"date":1,"utc":true},{"year":2006,"month":6,"date":1,"utc":true},{"year":2006,"month":7,"date":1,"utc":true},{"year":2006,"month":8,"date":1,"utc":true},{"year":2006,"month":9,"date":1,"utc":true},{"year":2006,"month":10,"date":1,"utc":true},{"year":2006,"month":11,"date":1,"utc":true},{"year":2006,"month":12,"date":1,"utc":true},{"year":2007,"month":1,"date":1,"utc":true},{"year":2007,"month":2,"date":1,"utc":true},{"year":2007,"month":3,"date":1,"utc":true},{"year":2007,"month":4,"date":1,"utc":true},{"year":2007,"month":5,"date":1,"utc":true},{"year":2007,"month":6,"date":1,"utc":true},{"year":2007,"month":7,"date":1,"utc":true},{"year":2007,"month":8,"date":1,"utc":true},{"year":2007,"month":9,"date":1,"utc":true},{"year":2007,"month":10,"date":1,"utc":true}],
"tickSize": 4, "offset": -4, "tickColor": "#404040", "tickWidth": 1}},
"y": {"field": "v", "type": "quantitative",
"scale": {"domain": [360, 361.5], "nice": false, "zero": false},
"axis": {"orient": "right", "title": "Niveau piézométrique en m NGF",
"values": [360, 360.3, 360.6, 360.9, 361.2, 361.5],
"labelExpr": "datum.value == 360 ? '360' : replace(format(datum.value, '.1f'), '.', ',')",
"grid": false, "domain": false, "ticks": false, "labelPadding": 13, "titlePadding": 8, "titleAngle": 270, "titleBaseline": "top"}},
"color": {"field": "s", "type": "nominal",
"legend": {
"title": null, "orient": "none", "legendX": 1024, "legendY": 161,
"values": ["Pluie", "ES 82", "ES 85", "ES 86", "ES 87", "ES 88", "ES 60"],
"strokeColor": "#000000", "fillColor": "#FFFFFF", "padding": 6,
"labelFont": "Liberation Sans", "labelFontSize": 14, "labelColor": "#000000",
"symbolSize": 400, "rowPadding": 6.5, "labelOffset": 13,
"encode": {"symbols": {"update": {
"shape": {"signal": "datum.value === 'Pluie' ? 'M-1,-0.3H1.5V0.3H-1ZM-0.93,-0.23V0.23H1.43V-0.23Z' : datum.value === 'ES 60' ? 'circle' : 'M-1,0H1.5'"},
"size": {"signal": "datum.value === 'ES 60' ? 110 : 400"},
"fill": {"signal": "datum.value === 'Pluie' ? '#000000' : datum.value === 'ES 60' ? '#0000FF' : 'transparent'"},
"stroke": {"signal": "datum.value === 'Pluie' ? 'transparent' : datum.value === 'ES 60' ? 'transparent' : datum.value === 'ES 82' ? '#FF00FF' : datum.value === 'ES 85' ? '#008000' : datum.value === 'ES 86' ? '#FF6600' : datum.value === 'ES 87' ? '#800080' : '#800000'"},
"strokeWidth": {"signal": "datum.value === 'Pluie' ? 0 : 1.6"},
"opacity": {"value": 1}
}}}
}},
"strokeWidth": {"field": "s", "type": "nominal", "legend": null,
"scale": {"domain": ["ES 82", "ES 85", "ES 86", "ES 87", "ES 88"], "range": [1.3, 1.3, 1.8, 2, 2]}}
}
},
{
"data": {"name": "es60"},
"mark": {"type": "point", "filled": true, "size": 100, "opacity": 1},
"encoding": {
"x": {"field": "d", "type": "temporal"},
"y": {"field": "v", "type": "quantitative"},
"color": {"field": "s", "type": "nominal",
"legend": {
"title": null, "orient": "none", "legendX": 1024, "legendY": 161,
"values": ["Pluie", "ES 82", "ES 85", "ES 86", "ES 87", "ES 88", "ES 60"],
"strokeColor": "#000000", "fillColor": "#FFFFFF", "padding": 6,
"labelFont": "Liberation Sans", "labelFontSize": 14, "labelColor": "#000000",
"symbolSize": 400, "rowPadding": 6.5, "labelOffset": 13,
"encode": {"symbols": {"update": {
"shape": {"signal": "datum.value === 'Pluie' ? 'M-1,-0.3H1.5V0.3H-1ZM-0.93,-0.23V0.23H1.43V-0.23Z' : datum.value === 'ES 60' ? 'circle' : 'M-1,0H1.5'"},
"size": {"signal": "datum.value === 'ES 60' ? 110 : 400"},
"fill": {"signal": "datum.value === 'Pluie' ? '#000000' : datum.value === 'ES 60' ? '#0000FF' : 'transparent'"},
"stroke": {"signal": "datum.value === 'Pluie' ? 'transparent' : datum.value === 'ES 60' ? 'transparent' : datum.value === 'ES 82' ? '#FF00FF' : datum.value === 'ES 85' ? '#008000' : datum.value === 'ES 86' ? '#FF6600' : datum.value === 'ES 87' ? '#800080' : '#800000'"},
"strokeWidth": {"signal": "datum.value === 'Pluie' ? 0 : 1.6"},
"opacity": {"value": 1}
}}}
}}
}
}
]
}
],
"resolve": {"scale": {"y": "independent"}, "axis": {"x": "independent"}},
"config": {
"font": "Liberation Sans",
"view": {"fill": "#C0C0C0", "stroke": null},
"legend": {"rowPadding": 6.5, "labelOffset": 13, "symbolSize": 400, "padding": 6},
"axis": {"labelFont": "Liberation Sans", "titleFont": "Liberation Sans", "labelFontSize": 14, "titleFontSize": 14,
"titleFontWeight": "normal", "labelColor": "#000000", "titleColor": "#000000"}
}
}
